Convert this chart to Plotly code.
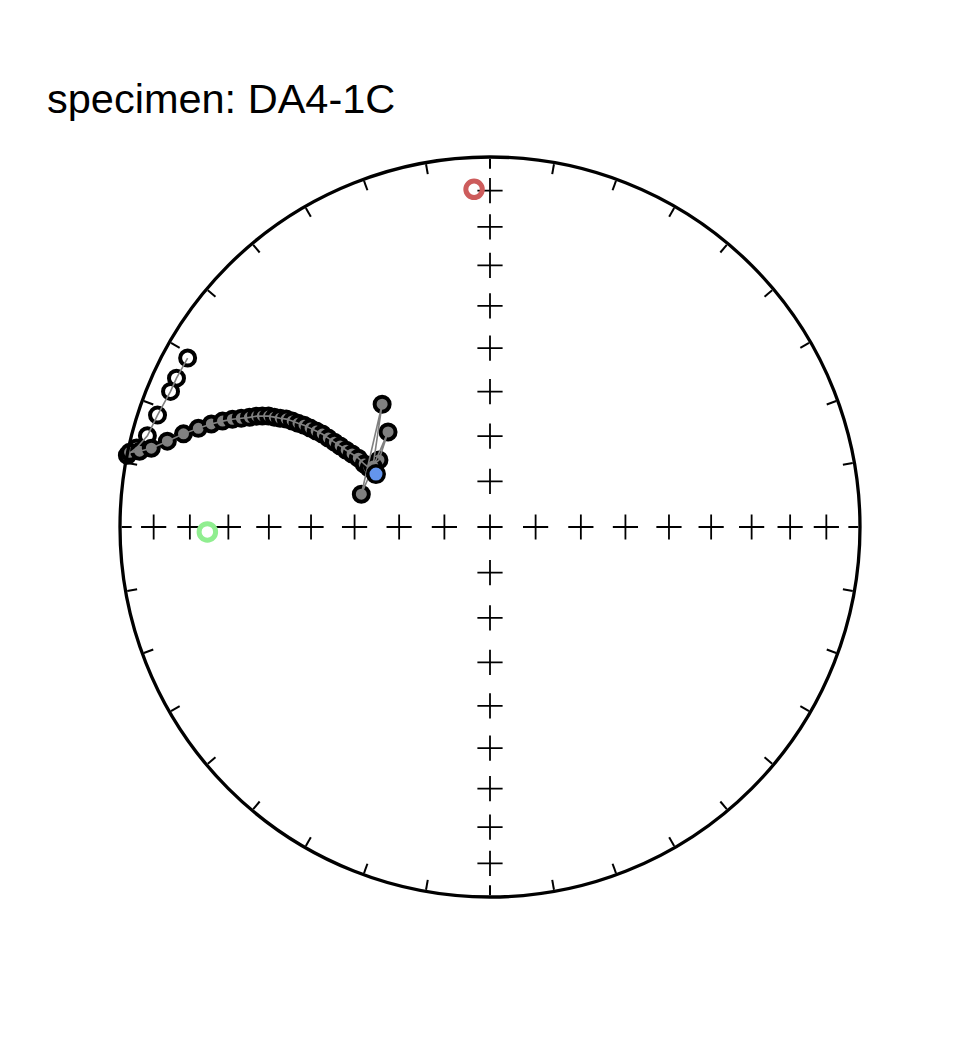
import numpy as np
import plotly.graph_objects as go

# Demagnetization steps (declination, inclination in degrees); negative inc = upper hemisphere
dec = [297.5, 318.7, 284.3, 313.0, 301.1, 296.0, 296.6, 297.6, 297.9, 298.1, 298.4, 298.6, 298.8, 299.0,
       298.9, 298.8, 298.7, 298.4, 298.2, 297.9, 297.4, 297.0, 296.6, 296.0, 295.4, 294.5, 293.6, 292.7,
       291.6, 290.3, 288.7, 286.9, 284.9, 283.1, 282.2, 281.7, 281.2, 282.6, 284.9, 288.6, 293.0, 295.4, 299.2]
inc = [60.8, 53.6, 60.6, 59.1, 61.3, 60.2, 58.8, 57.0, 55.3, 53.7, 52.0, 50.4, 48.7, 47.0,
       45.4, 43.8, 42.2, 40.7, 39.2, 37.7, 36.3, 34.9, 33.5, 32.1, 30.8, 29.3, 27.5, 25.5,
       23.3, 20.8, 17.9, 14.5, 10.7, 6.7, 3.5, 0.6, -0.1, -2.4, -4.7, -5.8, -6.9, -6.9, -7.1]

# Fit / reference directions
fit_dec, fit_inc = [294.9], [62.2]        # blue
red_dec, red_inc = [357.3], [-9.5]        # red open
green_dec, green_inc = [269.0], [-24.6]   # green open

title = 'specimen: DA4-1C'


def eqr(i):
    """Lambert equal-area radial distance for inclination."""
    return np.sqrt(1 - np.sin(np.radians(np.abs(np.asarray(i, float)))))


fig = go.Figure()

# net crosses every 10 degrees of inclination along N, E, S, W
cth, cinc = [], []
for d, rng in [(0, range(10, 100, 10)), (90, range(10, 90, 10)),
               (180, range(10, 90, 10)), (270, range(10, 90, 10))]:
    for i in rng:
        cth.append(d)
        cinc.append(i)
fig.add_trace(go.Scatterpolar(r=eqr(cinc), theta=cth, mode='markers', cliponaxis=False,
                              marker=dict(symbol='cross-thin', size=18, line=dict(color='black', width=1.8)),
                              hoverinfo='skip'))

decA = np.array(dec)[::-1]
incA = np.array(inc)[::-1]
lo = incA >= 0
fig.add_trace(go.Scatterpolar(r=eqr(incA[~lo]), theta=decA[~lo], mode='markers', cliponaxis=False,
                              marker=dict(size=15, color='white', line=dict(color='black', width=4))))
fig.add_trace(go.Scatterpolar(r=eqr(incA[lo]), theta=decA[lo], mode='markers', cliponaxis=False,
                              marker=dict(size=15, color='gray', line=dict(color='black', width=4))))
fig.add_trace(go.Scatterpolar(r=eqr(inc), theta=dec, mode='lines', cliponaxis=False,
                              line=dict(color='gray', width=1.6)))
fig.add_trace(go.Scatterpolar(r=eqr(fit_inc), theta=fit_dec, mode='markers', cliponaxis=False,
                              marker=dict(size=16.5, color='cornflowerblue', line=dict(color='black', width=3.5))))
fig.add_trace(go.Scatterpolar(r=eqr(red_inc), theta=red_dec, mode='markers', cliponaxis=False,
                              marker=dict(size=16.5, color='rgba(0,0,0,0)', line=dict(color='indianred', width=5))))
fig.add_trace(go.Scatterpolar(r=eqr(green_inc), theta=green_dec, mode='markers', cliponaxis=False,
                              marker=dict(size=16.5, color='rgba(0,0,0,0)', line=dict(color='lightgreen', width=5))))

fig.update_layout(
    width=960, height=1044, showlegend=False, paper_bgcolor='white',
    margin=dict(l=111.5, r=107.5, t=148, b=154, pad=0),
    polar=dict(domain=dict(x=[0, 1], y=[0, 1]), bgcolor='white',
               radialaxis=dict(visible=False, range=[0, 1]),
               angularaxis=dict(rotation=90, direction='clockwise', showline=True, linecolor='black',
                                linewidth=3.3, ticks='inside', ticklen=10, tickwidth=1.5, tickcolor='black',
                                tickmode='linear', tick0=0, dtick=10, showticklabels=False, showgrid=False)),
)
fig.add_annotation(text=title, xref='paper', yref='paper',
                   x=(44 - 119.5) / 741, y=(1044 - 146 - 98.5) / 742, xanchor='left', yanchor='middle',
                   showarrow=False, font=dict(family='Liberation Sans, Arial', size=41.5, color='black'))
fig.write_html('out.html')
